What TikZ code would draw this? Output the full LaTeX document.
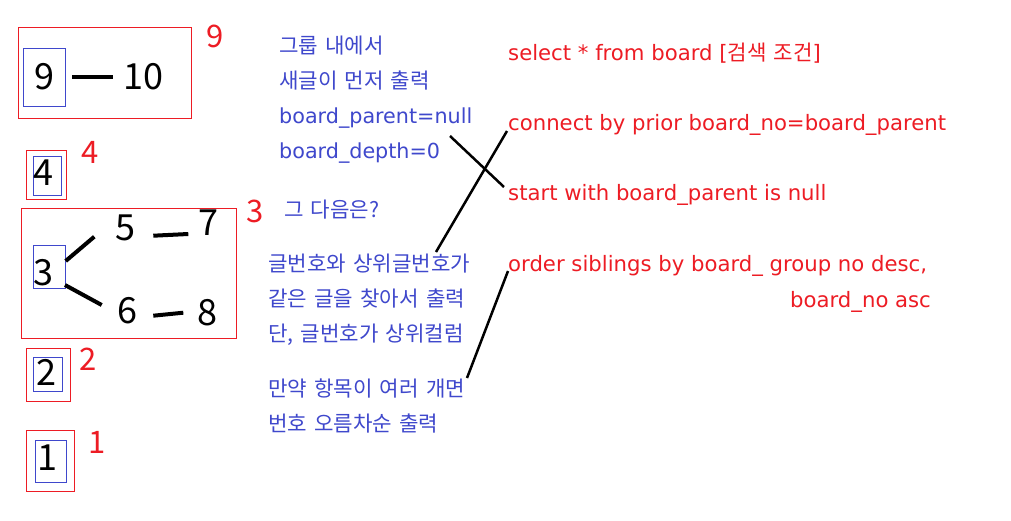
\documentclass[tikz,border=0pt]{standalone}
\usepackage{fontspec}
\setmainfont{DejaVu Sans}
\newfontfamily\kr{Noto Sans CJK KR}[WordSpace=1.5]
\definecolor{pred}{RGB}{237,28,36}
\definecolor{pblue}{RGB}{63,72,204}
\begin{document}
\begin{tikzpicture}[x=1pt,y=-1pt,
  redbox/.style={draw=pred,line width=1pt,inner sep=0pt,rectangle},
  bluebox/.style={draw=pblue,line width=1pt,inner sep=0pt,rectangle},
  digit/.style={inner sep=0pt,anchor=base,font=\kr\fontsize{36}{40}\selectfont,text=black},
  rlabel/.style={inner sep=0pt,anchor=base,font=\kr\fontsize{31}{34}\selectfont,text=pred},
  btext/.style={inner sep=0pt,anchor=base west,font=\kr\fontsize{21.2}{23}\selectfont,text=pblue},
  blat/.style={inner sep=0pt,anchor=base west,font=\fontsize{20.7}{23}\selectfont,text=pblue},
  rtext/.style={inner sep=0pt,anchor=base west,font=\fontsize{21.2}{23}\selectfont,text=pred},
  treeline/.style={line width=4pt,black},
  conn/.style={line width=2.5pt,black}]
\useasboundingbox[fill=white] (0,0) rectangle (1011,520);

% group boxes
\node[redbox,minimum width=173pt,minimum height=91pt] (r9) at (104.5,72.5) {};
\node[bluebox,minimum width=42pt,minimum height=58pt] (b9) at (44,77) {};
\node[redbox,minimum width=40pt,minimum height=49pt] (r4) at (46,174.5) {};
\node[bluebox,minimum width=28pt,minimum height=39pt] (b4) at (47,175.5) {};
\node[redbox,minimum width=215pt,minimum height=130pt] (r3) at (128.5,273) {};
\node[bluebox,minimum width=32pt,minimum height=43pt] (b3) at (49,266.5) {};
\node[redbox,minimum width=44pt,minimum height=53pt] (r2) at (48,374.5) {};
\node[bluebox,minimum width=29pt,minimum height=34pt] (b2) at (47.5,374) {};
\node[redbox,minimum width=48pt,minimum height=61pt] (r1) at (50,460.5) {};
\node[bluebox,minimum width=31pt,minimum height=42pt] (b1) at (50.5,461) {};

% digits
\node[digit] (d9) at (44,89) {9};
\node[digit] (d10) at (143,89) {10};
\node[digit] (d4) at (43,185) {4};
\node[digit] (d3) at (43,285) {3};
\node[digit] (d5) at (125.5,240) {5};
\node[digit] (d7) at (208,235) {7};
\node[digit] (d6) at (127,323) {6};
\node[digit] (d8) at (207,325) {8};
\node[digit] (d2) at (46,385) {2};
\node[digit] (d1) at (47,470) {1};

% red group labels
\node[rlabel] (l9) at (215,47) {9};
\node[rlabel] (l4) at (90,163) {4};
\node[rlabel] (l3) at (255,222) {3};
\node[rlabel] (l2) at (88,370) {2};
\node[rlabel] (l1) at (97,453) {1};

% tree lines
\coordinate (t9a) at (72,77); \coordinate (t9b) at (113,77);
\coordinate (t35a) at (65.7,261); \coordinate (t35b) at (94.3,236.7);
\coordinate (t36a) at (65,285); \coordinate (t36b) at (101.7,305);
\coordinate (t57a) at (153.3,235.7); \coordinate (t57b) at (188.3,234);
\coordinate (t68a) at (153.3,315.7); \coordinate (t68b) at (183.3,312.7);
\draw[treeline] (t9a) -- (t9b);
\draw[treeline] (t35a) -- (t35b);
\draw[treeline] (t36a) -- (t36b);
\draw[treeline] (t57a) -- (t57b);
\draw[treeline] (t68a) -- (t68b);

% blue notes
\node[btext] (n1) at (279,53) {그룹 내에서};
\node[btext] (n2) at (279,88) {새글이 먼저 출력};
\node[blat] (n3) at (279,123) {board\_parent=null};
\node[blat] (n4) at (279,158) {board\_depth=0};
\node[btext] (n5) at (284,217) {그 다음은?};
\node[btext] (n6) at (268,271) {글번호와 상위글번호가};
\node[btext] (n7) at (268,306) {같은 글을 찾아서 출력};
\node[btext] (n8) at (268,341) {단, 글번호가 상위컬럼};
\node[btext] (n9) at (268,396) {만약 항목이 여러 개면};
\node[btext] (n10) at (268,431) {번호 오름차순 출력};

% red SQL
\node[rtext] (s1) at (508,60) {select * from board [{\kr\fontsize{21.2}{23}\selectfont 검색 조건}]};
\node[rtext] (s2) at (508,130) {connect by prior board\_no=board\_parent};
\node[rtext] (s3) at (508,200) {start with board\_parent is null};
\node[rtext] (s4) at (508,271) {order siblings by board\_ group no desc,};
\node[rtext] (s5) at (790,307) {board\_no asc};

% connectors
\coordinate (c1a) at (450,136); \coordinate (c1b) at (504,187);
\coordinate (c2a) at (436,252); \coordinate (c2b) at (507,131);
\coordinate (c3a) at (467,378); \coordinate (c3b) at (508,271);
\draw[conn] (c1a) -- (c1b);
\draw[conn] (c2a) -- (c2b);
\draw[conn] (c3a) -- (c3b);
\end{tikzpicture}
\end{document}
